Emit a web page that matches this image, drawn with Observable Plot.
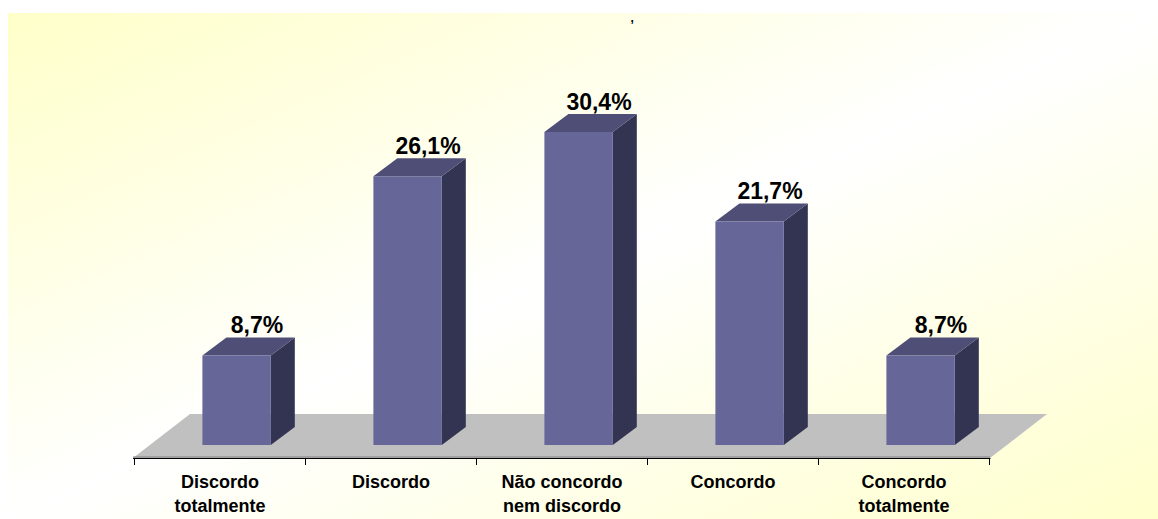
<!DOCTYPE html>
<html>
<head>
<meta charset="utf-8">
<script src="https://cdn.jsdelivr.net/npm/d3@7"></script>
<script src="https://cdn.jsdelivr.net/npm/@observablehq/plot@0.6"></script>
<style>
  html, body { margin: 0; padding: 0; background: #ffffff; }
  #chart svg { display: block; font-family: "Liberation Sans", Arial, sans-serif; }
</style>
</head>
<body>
<div id="chart"></div>
<script>
const categories = ["Discordo\ntotalmente", "Discordo", "Não concordo\nnem discordo", "Concordo", "Concordo\ntotalmente"];
const values = [8.7, 26.1, 30.4, 21.7, 8.7];
const valueLabels = ["8,7%", "26,1%", "30,4%", "21,7%", "8,7%"];
const titleFragment = [","];

const data = categories.map((c, i) => ({category: c, value: values[i], label: valueLabels[i]}));

// 3D styling constants
const DEPTH_X = 24, DEPTH_Y = -18;      // bar depth
const FLOOR_DX = 57, FLOOR_DY = -44;    // floor depth
const FLOOR_DROP = 13;                  // floor front edge below bar base
const BAR_OFFSET = 0.4, BAR_WIDTH = 0.4; // fractions of band

function bandwidthOf(x, dims) {
  if (x && typeof x.bandwidth === "function") return x.bandwidth();
  return (dims.width - dims.marginLeft - dims.marginRight) / categories.length;
}

// background gradient
function background(index, scales, vals, dims) {
  const g = d3.create("svg:g");
  const defs = g.append("defs");
  const lg = defs.append("linearGradient").attr("id", "bggrad")
    .attr("x1", 0).attr("y1", 0).attr("x2", 1).attr("y2", 1);
  lg.append("stop").attr("offset", 0).attr("stop-color", "#ffffc9");
  lg.append("stop").attr("offset", 0.5).attr("stop-color", "#ffffff");
  lg.append("stop").attr("offset", 1).attr("stop-color", "#ffffcc");
  g.append("rect").attr("x", 8).attr("y", 13)
    .attr("width", dims.width - 8).attr("height", dims.height - 13)
    .attr("fill", "url(#bggrad)");
  return g.node();
}

// floor
function floor(index, scales, vals, dims) {
  const x0 = dims.marginLeft, x1 = dims.width - dims.marginRight;
  const yf = scales.y(0) + FLOOR_DROP;
  const pts = [[x0, yf], [x1, yf], [x1 + FLOOR_DX, yf + FLOOR_DY], [x0 + FLOOR_DX, yf + FLOOR_DY]];
  const g = d3.create("svg:g");
  g.append("polygon").attr("points", pts.map(p => p.join(",")).join(" ")).attr("fill", "#c0c0c0");
  return g.node();
}

// bars in 3D (front, top, side)
function bars3d(index, scales, vals, dims) {
  const bw = bandwidthOf(scales.x, dims);
  const g = d3.create("svg:g");
  data.forEach(d => {
    const xl = scales.x(d.category) + BAR_OFFSET * bw;
    const xr = xl + BAR_WIDTH * bw;
    const yt = scales.y(d.value);
    const yb = scales.y(0);
    const poly = (pts, fill) => g.append("polygon")
      .attr("points", pts.map(p => p.join(",")).join(" ")).attr("fill", fill);
    poly([[xr, yb], [xr, yt], [xr + DEPTH_X, yt + DEPTH_Y], [xr + DEPTH_X, yb + DEPTH_Y]], "#333352");
    poly([[xl, yt], [xr, yt], [xr + DEPTH_X, yt + DEPTH_Y], [xl + DEPTH_X, yt + DEPTH_Y]], "#4e4e76");
    poly([[xl, yb], [xr, yb], [xr, yt], [xl, yt]], "#666699");
  });
  return g.node();
}

// axis line with ticks at band edges
function axis(index, scales, vals, dims) {
  const bw = bandwidthOf(scales.x, dims);
  const x0 = dims.marginLeft, x1 = dims.width - dims.marginRight;
  const ya = scales.y(0) + FLOOR_DROP;
  const g = d3.create("svg:g");
  g.append("line").attr("x1", x0).attr("x2", x1).attr("y1", ya - 1).attr("y2", ya - 1)
    .attr("stroke", "#808080").attr("stroke-width", 1);
  g.append("line").attr("x1", x0).attr("x2", x1 + 0.5).attr("y1", ya + 0.5).attr("y2", ya + 0.5)
    .attr("stroke", "#000").attr("stroke-width", 1);
  const edges = categories.map(c => scales.x(c)).concat([scales.x(categories[categories.length - 1]) + bw]);
  edges.forEach(e => {
    g.append("line").attr("x1", Math.round(e) + 0.5).attr("x2", Math.round(e) + 0.5)
      .attr("y1", ya).attr("y2", ya + 7).attr("stroke", "#000").attr("stroke-width", 1);
  });
  return g.node();
}

const chart = Plot.plot({
  width: 1158,
  height: 519,
  marginLeft: 133,
  marginRight: 168,
  marginTop: 33,
  marginBottom: 74,
  style: {background: "transparent", fontFamily: "'Liberation Sans', Arial, sans-serif"},
  x: {type: "band", domain: categories, padding: 0, axis: null},
  y: {domain: [0, 40], axis: null},
  marks: [
    background,
    floor,
    bars3d,
    axis,
    Plot.text(data, {
      x: "category", y: "value", text: "label",
      dx: 37, dy: -30,
      fontSize: 23, fontWeight: "bold", fill: "#000"
    }),
    Plot.text(categories, {
      x: d => d, frameAnchor: "bottom", dy: 25,
      lineAnchor: "top", lineHeight: 1.36,
      fontSize: 18, fontWeight: "bold", fill: "#000"
    }),
    Plot.text(titleFragment, {
      frameAnchor: "top-left", dx: 497, dy: -20,
      fontSize: 12, fontWeight: "bold", fill: "#000"
    })
  ]
});
document.getElementById("chart").appendChild(chart);
</script>
</body>
</html>
